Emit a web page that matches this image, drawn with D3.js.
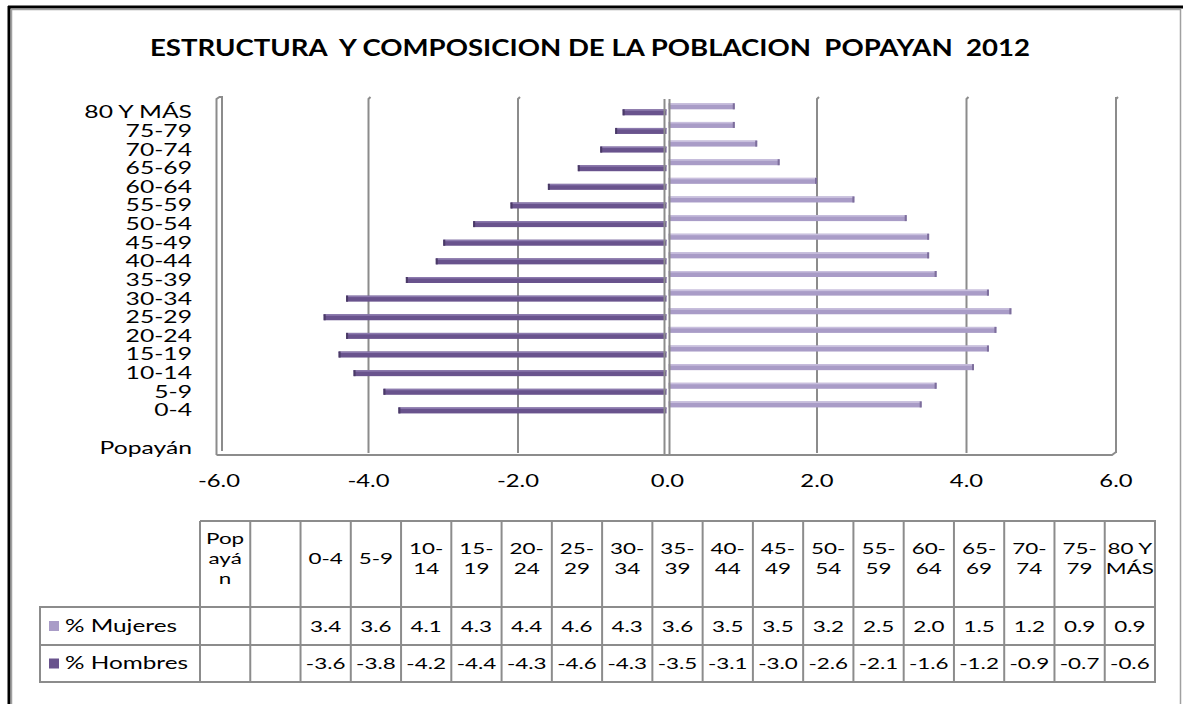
<!DOCTYPE html>
<html>
<head>
<meta charset="utf-8">
<script src="https://cdn.jsdelivr.net/npm/d3@7/dist/d3.min.js"></script>
<style>
body { margin: 0; background: #fff; }
text { font-family: Lato, "Noto Sans", sans-serif; fill: #000; }
</style>
</head>
<body>
<svg id="chart"></svg>
<script>
// age groups, bottom to top (first two slots are the empty "Popayán" columns of the sheet)
var categories = ["Popayán", "", "0-4", "5-9", "10-14", "15-19", "20-24", "25-29", "30-34",
    "35-39", "40-44", "45-49", "50-54", "55-59", "60-64", "65-69", "70-74", "75-79", "80 Y MÁS"];
var mujeres = [null, null, 3.4, 3.6, 4.1, 4.3, 4.4, 4.6, 4.3, 3.6, 3.5, 3.5, 3.2, 2.5, 2.0, 1.5, 1.2, 0.9, 0.9];
var hombres = [null, null, -3.6, -3.8, -4.2, -4.4, -4.3, -4.6, -4.3, -3.5, -3.1, -3.0, -2.6, -2.1, -1.6, -1.2, -0.9, -0.7, -0.6];
var xTicks = [-6, -4, -2, 0, 2, 4, 6];
var seriesNames = ["% Mujeres", "% Hombres"];
// header of the data table, wrapped as in the sheet
var tableHeader = [["Pop", "ayá", "n"], [""], ["0-4"], ["5-9"], ["10-", "14"], ["15-", "19"], ["20-", "24"],
    ["25-", "29"], ["30-", "34"], ["35-", "39"], ["40-", "44"], ["45-", "49"], ["50-", "54"], ["55-", "59"],
    ["60-", "64"], ["65-", "69"], ["70-", "74"], ["75-", "79"], ["80 Y", "MÁS"]];
var title = "ESTRUCTURA  Y COMPOSICION DE LA POBLACION  POPAYAN  2012";

var colors = {
    mujeres: "#a99cc7", mujeresTop: "#c9c0de", mujeresEnd: "#7d6e9c",
    hombres: "#69538d", hombresTop: "#8c7aae", hombresEnd: "#4a3a66",
    grid: "#8c8c8c"
};

var width = 1183, height = 704;
var STRETCH = 1.4; // the original picture is stretched sideways

// plain hyphen for negatives, like the sheet
var fmt = d3.formatLocale({decimal: ".", thousands: ",", grouping: [3], currency: ["", ""], minus: "-"})
    .format(".1f");

var svg = d3.select("#chart")
    .attr("width", width)
    .attr("height", height);

svg.append("rect").attr("width", width).attr("height", height).attr("fill", "#fff");

// widen a text element horizontally while keeping its anchor point
var stretch = function(sel, k) {
    sel.each(function() {
        var t = d3.select(this);
        var w = this.getComputedTextLength();
        if (w === 0) return;
        var anchor = t.attr("text-anchor") || "start";
        var x = +t.attr("x");
        var nw = w * k;
        if (anchor === "middle") x = x - nw / 2;
        if (anchor === "end") x = x - nw;
        t.attr("text-anchor", "start").attr("x", x)
            .attr("textLength", nw).attr("lengthAdjust", "spacingAndGlyphs");
    });
};

// frame of the chart object
svg.append("line").attr("x1", 8).attr("x2", width).attr("y1", 7).attr("y2", 7)
    .attr("stroke", "#000").attr("stroke-width", 3);
svg.append("line").attr("x1", 9).attr("x2", 9).attr("y1", 6).attr("y2", height)
    .attr("stroke", "#000").attr("stroke-width", 3);
svg.append("path").attr("d", "M11.5," + height + "V9.5H1180.5V" + height)
    .attr("fill", "none").attr("stroke", "#a0a0a0").attr("stroke-width", 1.5);

// title (keeps the double spaces of the original)
svg.append("text")
    .attr("x", 150).attr("y", 56)
    .attr("xml:space", "preserve")
    .style("white-space", "pre")
    .attr("font-size", 23).attr("font-weight", "bold")
    .attr("textLength", 880).attr("lengthAdjust", "spacingAndGlyphs")
    .text(title);

// scales
var xScale = d3.scaleLinear().domain([-6, 6]).range([219, 1116]);
var yScale = d3.scaleBand().domain(categories).range([455, 101]).padding(0);

// back wall gridlines
var grid = svg.append("g").attr("class", "grid");
grid.selectAll("path.v")
    .data(xTicks.filter(function(d) { return d !== -6 && d !== 0; }))
    .enter().append("path")
    .attr("d", function(d) {
        var x = xScale(d);
        return "M" + x + ",453V99l2,-2";
    })
    .attr("fill", "none").attr("stroke", colors.grid).attr("stroke-width", 2);

// left wall (thin 3D edge)
grid.append("path")
    .attr("d", "M" + (xScale(-6) - 2.5) + ",455V99l3,-2h2.5V451")
    .attr("fill", "none").attr("stroke", colors.grid).attr("stroke-width", 2);
// floor edge
grid.append("path")
    .attr("d", "M" + (xScale(-6) - 2.5) + ",455H" + (xScale(6) - 4) + "l4,-3")
    .attr("fill", "none").attr("stroke", colors.grid).attr("stroke-width", 2);

// bars
var bandH = yScale.bandwidth();
var barH = 6;
var drawBars = function(values, key, offset) {
    var g = svg.append("g").attr("class", "bars " + key);
    var rows = values.map(function(v, i) { return {v: v, c: categories[i]}; })
        .filter(function(d) { return d.v !== null; });
    var y = function(d) { return yScale(d.c) + bandH / 2 + offset; };
    var x0 = function(d) { return d.v < 0 ? xScale(d.v) : xScale(0) + 1; };
    var w = function(d) { return d.v < 0 ? xScale(0) - 1 - xScale(d.v) : xScale(d.v) - xScale(0) - 1; };
    g.selectAll("rect.face").data(rows).enter().append("rect")
        .attr("x", x0).attr("y", y).attr("width", w).attr("height", barH)
        .attr("fill", colors[key]);
    g.selectAll("rect.top").data(rows).enter().append("rect")
        .attr("x", x0).attr("y", y).attr("width", w).attr("height", 1.5)
        .attr("fill", colors[key + "Top"]);
    g.selectAll("rect.end").data(rows).enter().append("rect")
        .attr("x", function(d) { return d.v < 0 ? xScale(d.v) : xScale(d.v) - 2; })
        .attr("y", y).attr("width", 2).attr("height", barH)
        .attr("fill", colors[key + "End"]);
};
drawBars(mujeres, "mujeres", -7);
drawBars(hombres, "hombres", -1);

// zero axis (double line, drawn over the bar roots)
[xScale(0) - 3, xScale(0) + 2].forEach(function(x) {
    svg.append("line").attr("x1", x).attr("x2", x).attr("y1", 99).attr("y2", 455)
        .attr("stroke", colors.grid).attr("stroke-width", 2);
});
// right wall
svg.append("path")
    .attr("d", "M" + xScale(6) + ",97V452")
    .attr("fill", "none").attr("stroke", colors.grid).attr("stroke-width", 2);

// category labels
svg.append("g").selectAll("text")
    .data(categories)
    .enter().append("text")
    .attr("x", 192)
    .attr("y", function(d) { return yScale(d) + bandH / 2 + 2; })
    .attr("dy", "0.35em")
    .attr("text-anchor", "end")
    .attr("font-size", 17)
    .text(function(d) { return d; })
    .call(stretch, 1.45);

// value axis labels
svg.append("g").selectAll("text")
    .data(xTicks)
    .enter().append("text")
    .attr("x", function(d) { return xScale(d); })
    .attr("y", 481)
    .attr("dy", "0.35em")
    .attr("text-anchor", "middle")
    .attr("font-size", 17)
    .text(function(d) { return fmt(d); })
    .call(stretch, STRETCH);

// data table under the chart
var table = {left: 40, first: 200, right: 1155, top: 521, head: 607, mid: 645, bottom: 682};
var colX = d3.scaleBand().domain(categories).range([table.first, table.right]);
var tg = svg.append("g").attr("class", "table");
var lineStyle = function(s) { s.attr("stroke", colors.grid).attr("stroke-width", 2).attr("fill", "none"); };

tg.append("path")
    .attr("d", "M" + table.first + "," + table.top + "H" + table.right + "V" + table.bottom +
        "H" + table.left + "V" + table.head + "H" + table.right +
        "M" + table.left + "," + table.mid + "H" + table.right)
    .call(lineStyle);
tg.selectAll("line.col").data(categories).enter().append("line")
    .attr("x1", function(d) { return colX(d); }).attr("x2", function(d) { return colX(d); })
    .attr("y1", table.top).attr("y2", table.bottom)
    .call(lineStyle);

// header text
var lineH = 20;
tableHeader.forEach(function(lines, i) {
    var cx = colX(categories[i]) + colX.bandwidth() / 2;
    var y0 = 558 - (lines.length - 1) * lineH / 2;
    lines.forEach(function(l, j) {
        tg.append("text")
            .attr("x", cx).attr("y", y0 + j * lineH)
            .attr("dy", "0.35em")
            .attr("text-anchor", "middle")
            .attr("font-size", 16)
            .text(l)
            .call(stretch, STRETCH);
    });
});

// legend keys + values
var rowsY = [(table.head + table.mid) / 2, (table.mid + table.bottom) / 2];
[mujeres, hombres].forEach(function(values, r) {
    var key = r === 0 ? "mujeres" : "hombres";
    tg.append("rect")
        .attr("x", 49).attr("y", rowsY[r] - 5).attr("width", 10).attr("height", 10)
        .attr("fill", colors[key]);
    tg.append("text")
        .attr("x", 65).attr("y", rowsY[r])
        .attr("dy", "0.35em")
        .attr("font-size", 17)
        .text(seriesNames[r])
        .call(stretch, 1.43);
    tg.selectAll("text.v" + r)
        .data(values.map(function(v, i) { return {v: v, c: categories[i]}; })
            .filter(function(d) { return d.v !== null; }))
        .enter().append("text")
        .attr("x", function(d) { return colX(d.c) + colX.bandwidth() / 2; })
        .attr("y", rowsY[r])
        .attr("dy", "0.35em")
        .attr("text-anchor", "middle")
        .attr("font-size", 16)
        .text(function(d) { return fmt(d.v); })
        .call(stretch, STRETCH);
});
</script>
</body>
</html>
